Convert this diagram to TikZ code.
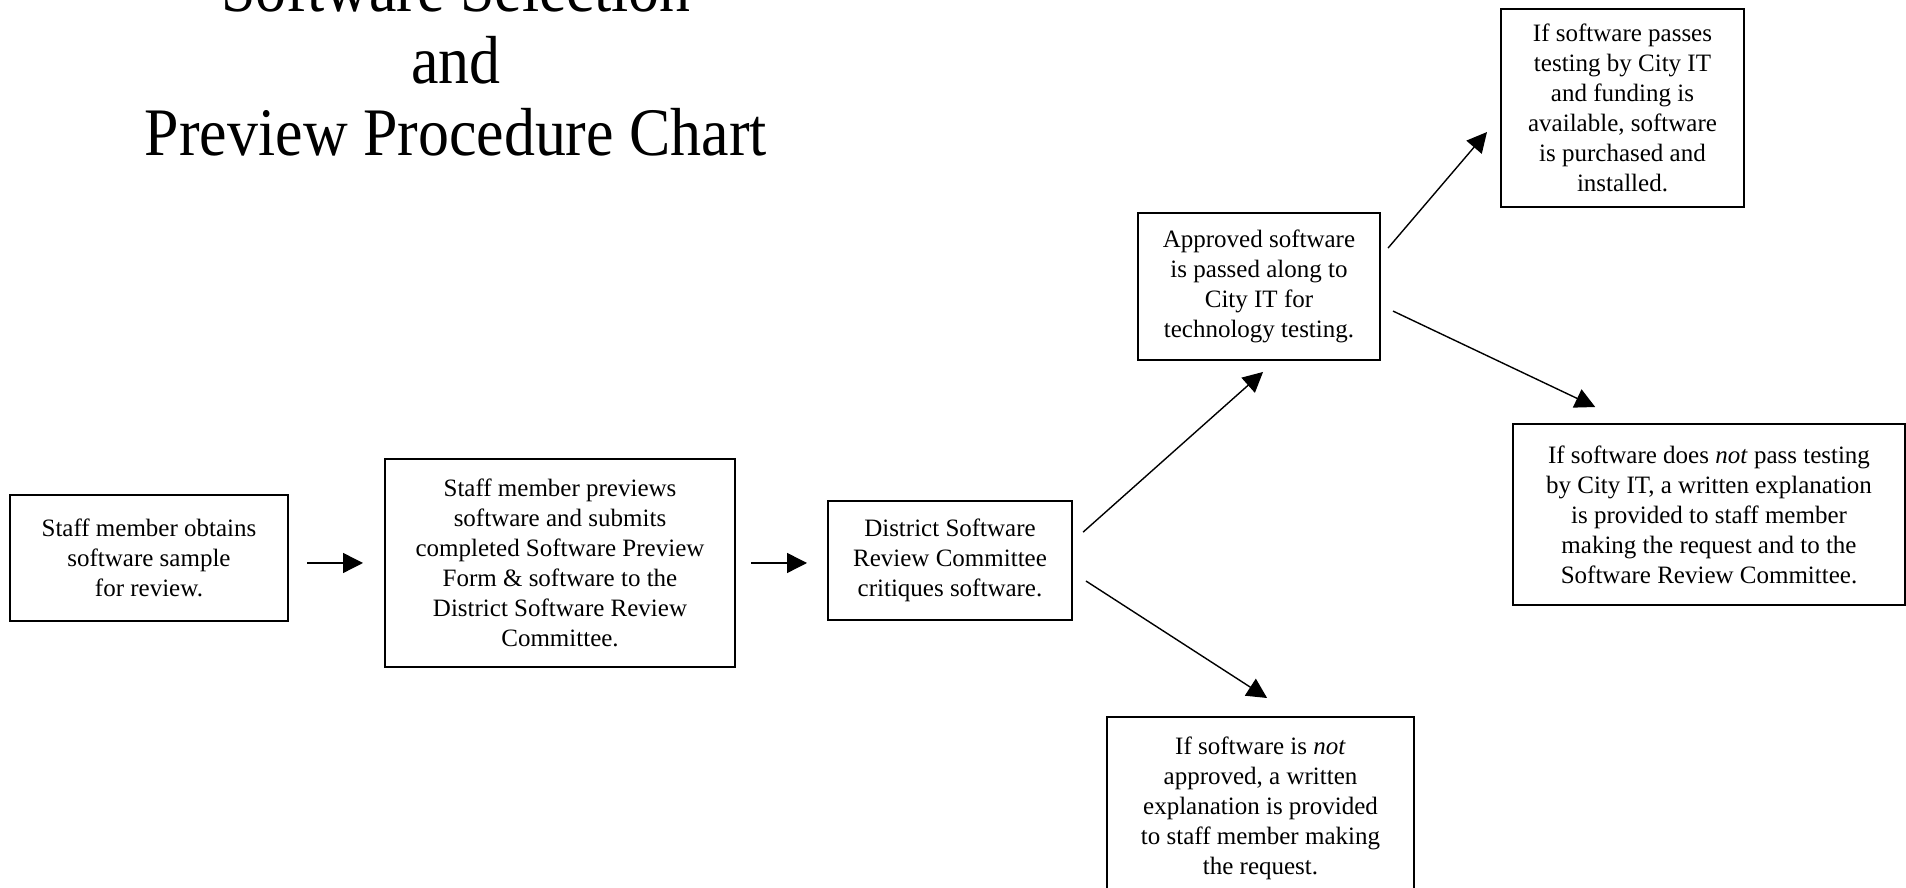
\documentclass[tikz,border=0pt]{standalone}
\usepackage{fontspec}
\setmainfont{Liberation Serif}
\newfontfamily\titlefont[FakeStretch=0.91]{Liberation Serif}
\usetikzlibrary{positioning,arrows.meta}

\begin{document}
\begin{tikzpicture}[flow/.style={-{Triangle[length=10pt,width=10pt]},line width=0.7pt},
  stage node/.style={draw,line width=0.8pt,align=center,inner sep=0pt,outer sep=0pt,font=\fontsize{12.5}{15}\selectfont},
  title node/.style={align=center,font=\titlefont\fontsize{34}{36}\selectfont}]

  \useasboundingbox (0,0) rectangle (953pt,444pt);

  \node[title node] (0) at (228pt,414pt) {Software Selection\\ and\\ Preview Procedure Chart};

  \node[stage node, minimum width=139pt, minimum height=63pt] (1) at (74.5pt,165pt) {Staff member obtains\\ software sample\\ for review.};
  \node[stage node, minimum width=175pt, minimum height=104pt] (2) [right=48.5pt of 1, yshift=-2.5pt] {Staff member previews\\ software and submits\\ completed Software Preview\\ Form \& software to the\\ District Software Review\\ Committee.};
  \node[stage node, minimum width=122pt, minimum height=59.5pt] (3) [right=46.5pt of 2, yshift=1.25pt] {District Software\\ Review Committee\\ critiques software.};
  \node[stage node, minimum width=121pt, minimum height=73.5pt] (4) [above right=70.5pt and 33pt of 3] {Approved software\\ is passed along to\\ City IT for\\ technology testing.};
  \node[stage node, minimum width=121.5pt, minimum height=99pt] (5) [above right=3pt and 60.5pt of 4] {If software passes\\ testing by City IT\\ and funding is\\ available, software\\ is purchased and\\ installed.};
  \node[stage node, minimum width=196pt, minimum height=90.5pt] (6) [below right=32pt and 66.5pt of 4] {If software does \emph{not} pass testing\\ by City IT, a written explanation\\ is provided to staff member\\ making the request and to the\\ Software Review Committee.};
  \node[stage node, minimum width=153.5pt, minimum height=91pt] (7) [below right=48.5pt and 17.5pt of 3] {If software is \emph{not}\\ approved, a written\\ explanation is provided\\ to staff member making\\ the request.};

  \path[flow]
    (1.east |- 2.west) edge [shorten <=9.5pt, shorten >=11pt] (2.west)
    (2.east) edge [shorten <=8pt, shorten >=10.5pt] (2.east -| 3.west)
    ([yshift=9.25pt]3.east) edge [shorten <=7.4pt, shorten >=9pt] ([xshift=8.75pt]4.south)
    ([yshift=-5.75pt]3.east) edge [shorten <=8.3pt, shorten >=17.5pt] ([xshift=18pt]7.north)
    ([yshift=14.5pt]4.east) edge [shorten <=6.2pt, shorten >=10.8pt] ([yshift=-3.8pt]5.west)
    ([yshift=-9.2pt]4.east) edge [shorten <=7.2pt, shorten >=19.8pt] ([xshift=-39pt]6.north);
\end{tikzpicture}
\end{document}
